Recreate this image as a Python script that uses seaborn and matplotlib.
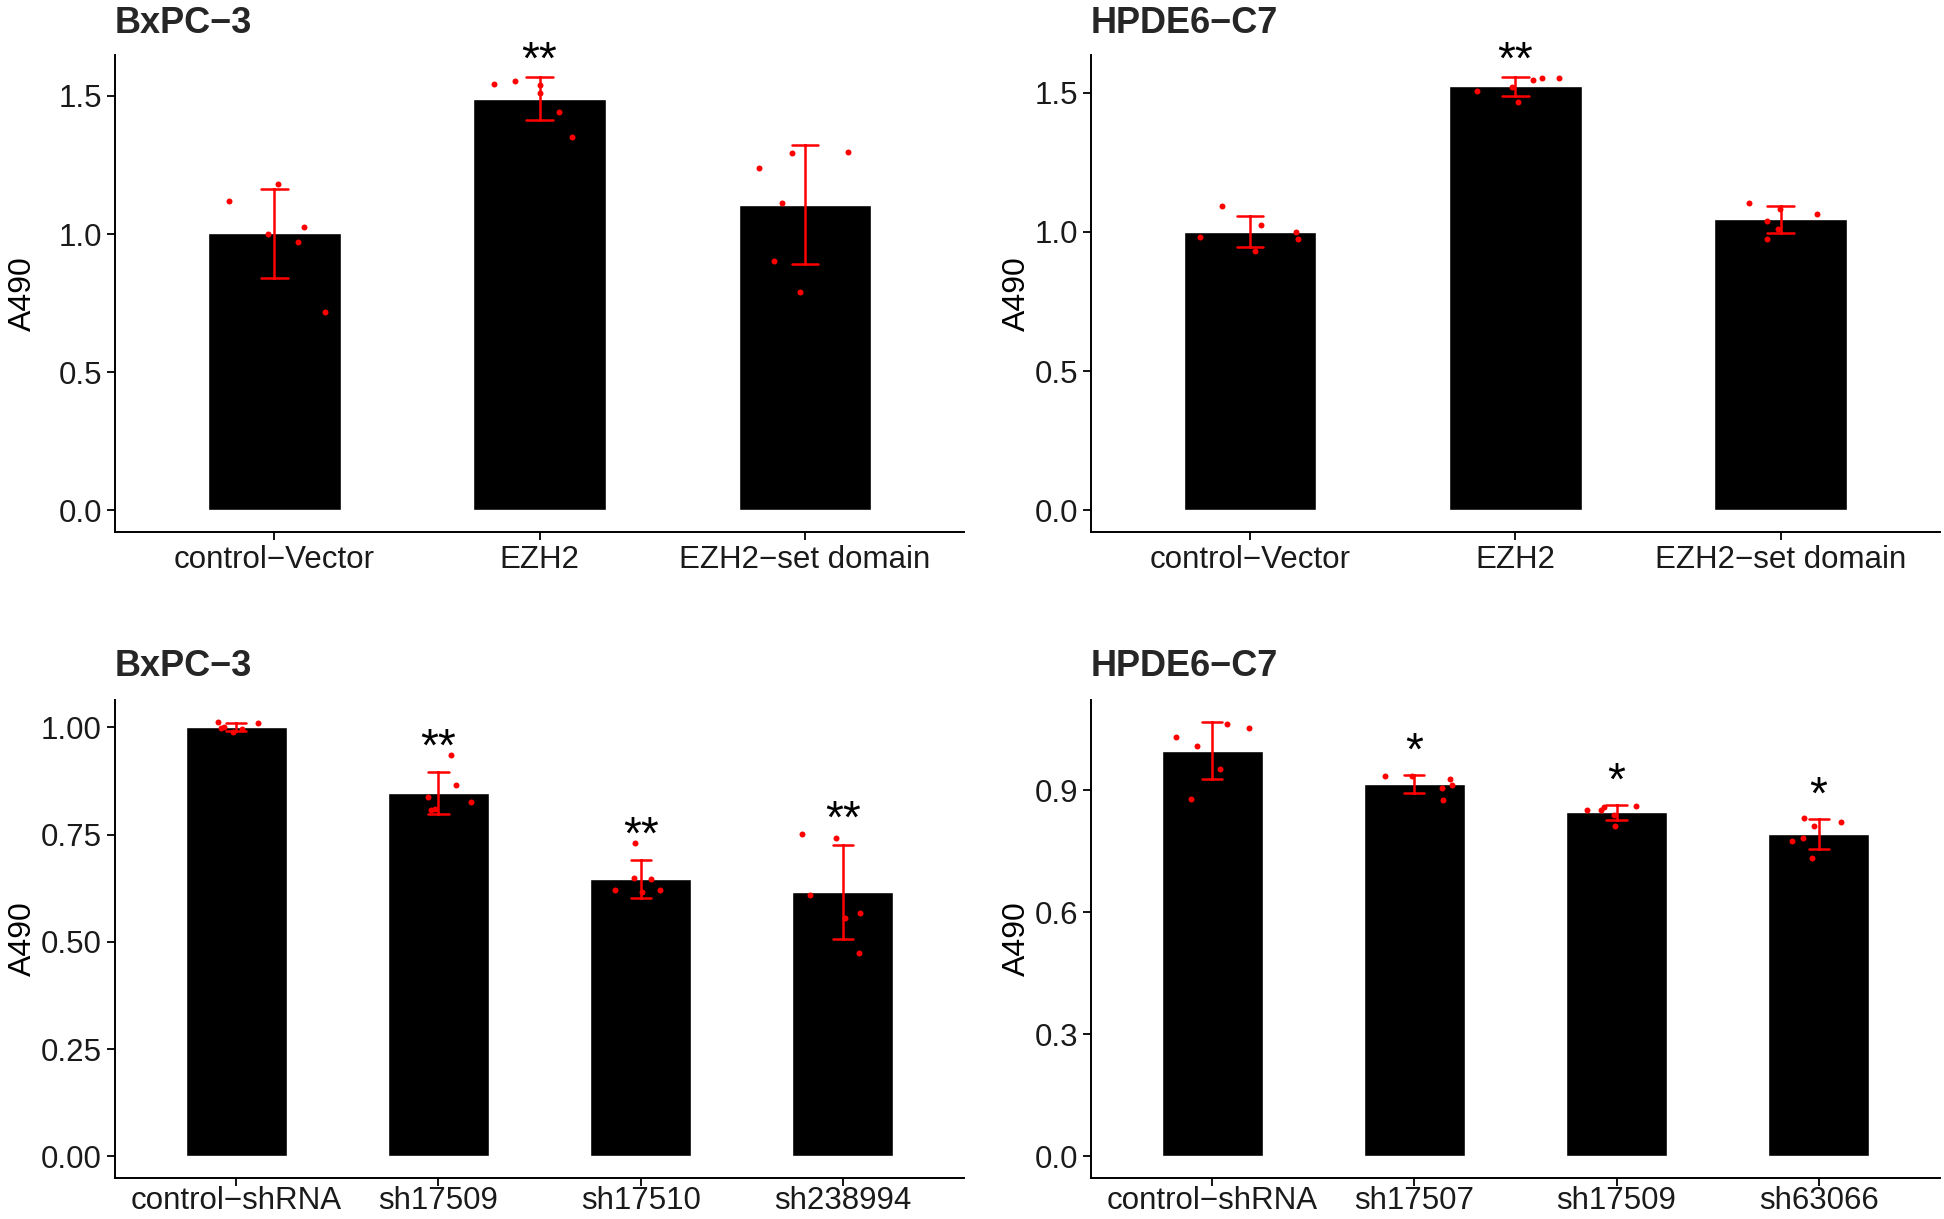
import numpy as np
import pandas as pd
import matplotlib
matplotlib.use("Agg")
import matplotlib.pyplot as plt
import seaborn as sns

sns.set_style("ticks")
plt.rcParams["font.family"] = ["Liberation Sans", "DejaVu Sans"]

# A490 readings, six replicates per group
# top-left: BxPC-3 overexpression
bx_oe_groups = ["control−Vector", "EZH2", "EZH2−set domain"]
bx_oe_ctrl = [1.121, 1.025, 1.001, 0.970, 0.717, 1.181]
bx_oe_ezh2 = [1.510, 1.544, 1.555, 1.540, 1.442, 1.352]
bx_oe_set = [1.293, 1.239, 1.113, 1.298, 0.902, 0.790]
bx_oe_stars = ["", "**", ""]

# top-right: HPDE6-C7 overexpression
hp_oe_groups = ["control−Vector", "EZH2", "EZH2−set domain"]
hp_oe_ctrl = [0.998, 0.982, 1.025, 0.976, 1.094, 0.933]
hp_oe_ezh2 = [1.552, 1.506, 1.466, 1.553, 1.545, 1.520]
hp_oe_set = [1.105, 1.081, 1.039, 1.009, 0.974, 1.065]
hp_oe_stars = ["", "**", ""]

# bottom-left: BxPC-3 knockdown
bx_kd_groups = ["control−shRNA", "sh17509", "sh17510", "sh238994"]
bx_kd_ctrl = [1.009, 0.999, 0.995, 1.013, 0.988, 1.000]
bx_kd_17509 = [0.936, 0.838, 0.810, 0.866, 0.808, 0.825]
bx_kd_17510 = [0.620, 0.620, 0.648, 0.731, 0.646, 0.615]
bx_kd_238994 = [0.742, 0.751, 0.609, 0.568, 0.555, 0.474]
bx_kd_stars = ["", "**", "**", "**"]

# bottom-right: HPDE6-C7 knockdown
hp_kd_groups = ["control−shRNA", "sh17507", "sh17509", "sh63066"]
hp_kd_ctrl = [1.054, 1.064, 1.031, 1.010, 0.952, 0.878]
hp_kd_17507 = [0.914, 0.927, 0.877, 0.935, 0.906, 0.935]
hp_kd_17509 = [0.853, 0.839, 0.862, 0.813, 0.852, 0.860]
hp_kd_63066 = [0.832, 0.783, 0.775, 0.734, 0.813, 0.823]
hp_kd_stars = ["", "*", "*", "*"]

panels = [
    ("BxPC−3", bx_oe_groups, [bx_oe_ctrl, bx_oe_ezh2, bx_oe_set], bx_oe_stars,
     [0, 0.5, 1.0, 1.5], "{:.1f}"),
    ("HPDE6−C7", hp_oe_groups, [hp_oe_ctrl, hp_oe_ezh2, hp_oe_set], hp_oe_stars,
     [0, 0.5, 1.0, 1.5], "{:.1f}"),
    ("BxPC−3", bx_kd_groups, [bx_kd_ctrl, bx_kd_17509, bx_kd_17510, bx_kd_238994], bx_kd_stars,
     [0, 0.25, 0.5, 0.75, 1.0], "{:.2f}"),
    ("HPDE6−C7", hp_kd_groups, [hp_kd_ctrl, hp_kd_17507, hp_kd_17509, hp_kd_63066], hp_kd_stars,
     [0, 0.3, 0.6, 0.9], "{:.1f}"),
]

# axes rectangles in figure fractions (left, bottom, width, height)
rects = [
    [0.0592, 0.5636, 0.4367, 0.3913],
    [0.5612, 0.5636, 0.4367, 0.3913],
    [0.0592, 0.0336, 0.4367, 0.3922],
    [0.5612, 0.0336, 0.4367, 0.3922],
]
label_x = [-0.091, -0.070, -0.091, -0.070]
title_pad = [16, 16, 17, 17]
xpad = [4, 4, 0.5, 0.5]

fig = plt.figure(figsize=(19.44, 12.19), dpi=100)
np.random.seed(7)

for k, (title, groups, values, stars, yticks, fmt) in enumerate(panels):
    ax = fig.add_axes(rects[k])
    df = pd.DataFrame({
        "group": np.repeat(groups, [len(v) for v in values]),
        "A490": np.concatenate(values),
    })
    sns.barplot(data=df, x="group", y="A490", order=groups, errorbar="sd",
                capsize=0.1, width=0.5, color="black", saturation=1,
                err_kws={"color": "red", "linewidth": 1.8}, ax=ax)
    sns.stripplot(data=df, x="group", y="A490", order=groups, color="red",
                  size=4.3, jitter=0.2, linewidth=0, ax=ax, zorder=4)

    stats = df.groupby("group")["A490"].agg(["mean", "std"]).reindex(groups)
    top = max(df["A490"].max(), (stats["mean"] + stats["std"]).max())
    ax.set_ylim(-0.05 * top, 1.05 * top)
    ax.set_xlim(-0.6, len(groups) - 0.4)

    for i, g in enumerate(groups):
        if stars[i]:
            ax.text(i, stats.loc[g, "mean"] + stats.loc[g, "std"] + 0.055, stars[i],
                    ha="center", va="center", fontsize=33, color="black")

    ax.set_yticks(yticks)
    ax.set_yticklabels([fmt.format(t) for t in yticks])
    ax.set_xlabel("")
    ax.set_ylabel("A490", fontsize=23, color="black")
    ax.yaxis.set_label_coords(label_x[k], 0.5)
    ax.set_title(title, loc="left", fontsize=26, fontweight="bold", pad=title_pad[k])
    ax.tick_params(axis="both", labelsize=22.5, length=5.5, width=1.3,
                   color="black", labelcolor="#1a1a1a")
    ax.tick_params(axis="y", pad=4)
    ax.tick_params(axis="x", pad=xpad[k])
    sns.despine(ax=ax)
    for side in ["left", "bottom"]:
        ax.spines[side].set_linewidth(1.4)
        ax.spines[side].set_color("black")

fig.savefig("out.png", dpi=100)
